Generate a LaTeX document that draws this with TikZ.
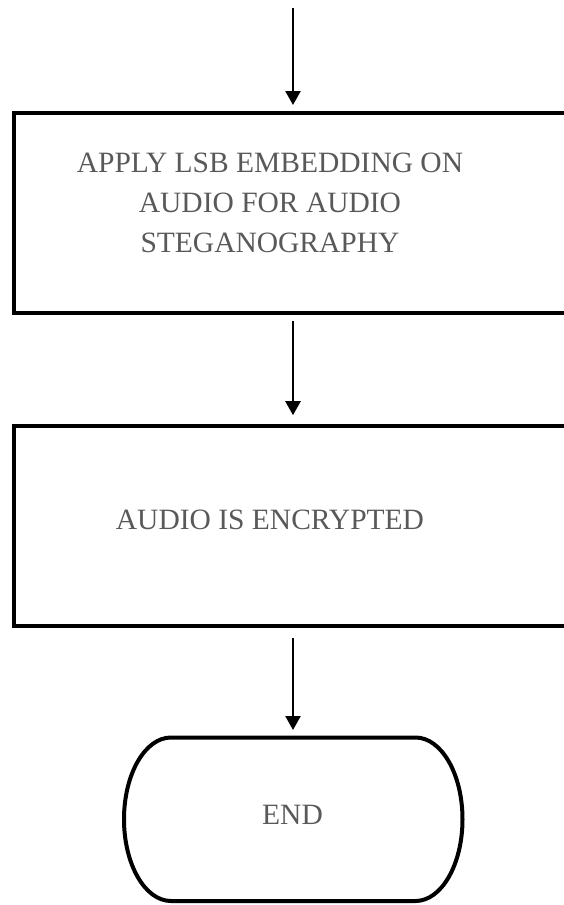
\documentclass[tikz,border=0pt]{standalone}
\usepackage{fontspec}
\setmainfont{Liberation Serif}
\usetikzlibrary{arrows.meta}
\definecolor{txtgray}{HTML}{595959}
\tikzset{
  procbox/.style={draw=black, line width=4pt, rectangle, minimum width=600pt, minimum height=200pt, anchor=north west, inner sep=0pt, outer sep=2pt},
  endbox/.style={rectangle, minimum width=338.5pt, minimum height=163.5pt, inner sep=0pt, outer sep=2pt},
  lbl/.style={text=txtgray, font=\fontsize{29.5}{40}\selectfont, align=center, inner sep=0pt},
  arr/.style={draw=black, line width=2.4pt, -{Triangle[width=15pt,length=14pt]}},
  shapeline/.style={draw=black, line width=4pt}
}
\begin{document}
\begin{tikzpicture}[x=1pt, y=-1pt]
\useasboundingbox (0,0) rectangle (564,905);
\clip (0,0) rectangle (564,905);
% boxes
\node[procbox] (box1) at (12,110.5) {};
\node[procbox] (box2) at (12,424.2) {};
\node[endbox] (endn) at (293.25,819.25) {};
% end shape
\draw[shapeline] (171,737.5) .. controls (145.04,737.5) and (124,774.1) .. (124,819.25)
  .. controls (124,864.4) and (145.04,901) .. (171,901) -- (415.5,901)
  .. controls (441.46,901) and (462.5,864.4) .. (462.5,819.25)
  .. controls (462.5,774.1) and (441.46,737.5) .. (415.5,737.5) -- cycle;
% labels
\node[lbl] (t1) at (270,203.3) {APPLY LSB EMBEDDING ON\\AUDIO FOR AUDIO\\STEGANOGRAPHY};
\node[lbl] (t2) at (270,519.5) {AUDIO IS ENCRYPTED};
\node[lbl] (t3) at (292.5,815.3) {END};
% connectors
\coordinate (top) at (293,7.5);
\draw[arr, shorten >=5.5pt] (top) -- (top |- box1.north);
\draw[arr, shorten <=6.5pt, shorten >=9pt] (top |- box1.south) -- (top |- box2.north);
\draw[arr, shorten <=10pt, shorten >=5.5pt] (top |- box2.south) -- (top |- endn.north);
\end{tikzpicture}
\end{document}
